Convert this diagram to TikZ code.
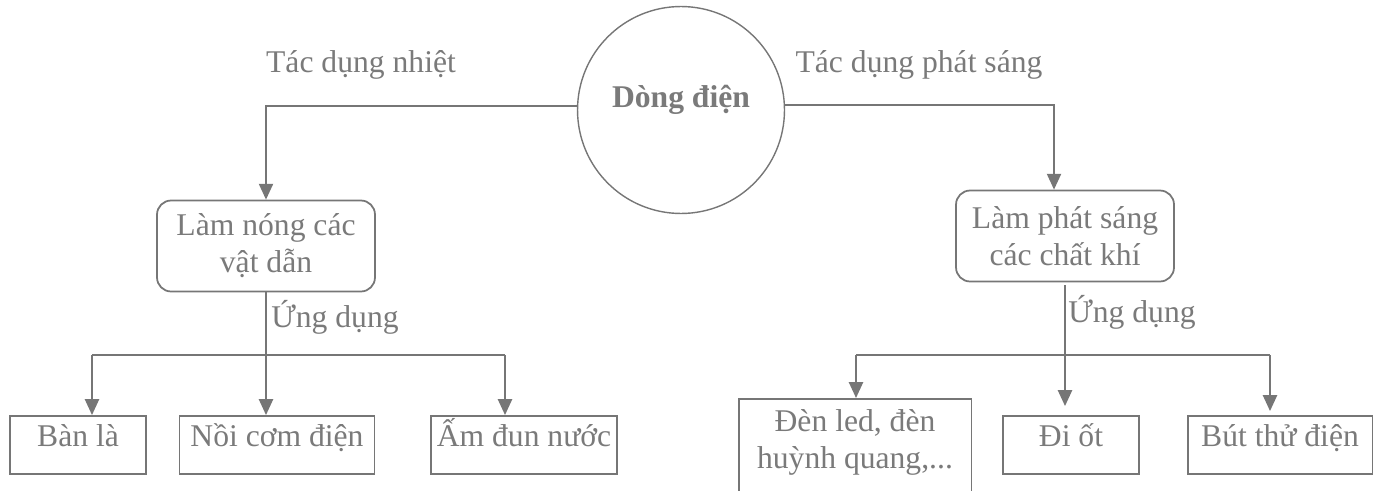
\documentclass[tikz,border=0pt]{standalone}
\usepackage{fontspec}
\setmainfont{Liberation Serif}
\usetikzlibrary{arrows.meta}
\definecolor{linegray}{RGB}{118,118,118}
\definecolor{textgray}{RGB}{122,122,122}

\begin{document}
\begin{tikzpicture}[x=0.02cm,y=-0.02cm,
  every node/.style={text=textgray,font=\fontsize{18}{21}\selectfont},
  roundbox/.style={draw=linegray,line width=1pt,rounded corners=8pt,align=center,minimum width=4.36cm,minimum height=1.82cm},
  leafbox/.style={draw=linegray,line width=1.1pt,align=center,minimum height=1.16cm,text height=0.45cm,text depth=0.4cm},
  conn/.style={draw=linegray,line width=1.1pt},
  arr/.style={conn,-{Triangle[length=9pt,width=8pt]}}]
  \useasboundingbox (0,0) rectangle (1381,490);
  \node[draw=linegray,line width=0.8pt,circle,minimum size=4.14cm,inner sep=0pt,text height=0.45cm,text depth=0.57cm,font=\fontsize{18}{21}\selectfont\bfseries] (dongdien) at (681,110) {Dòng điện};
  \node (nhiet) at (361,65) {Tác dụng nhiệt};
  \node (phatsangtxt) at (919,65) {Tác dụng phát sáng};
  \node[roundbox] (lamnong) at (266,246) {Làm nóng các\\vật dẫn};
  \node[roundbox] (phatsang) at (1065,236) {Làm phát sáng\\các chất khí};
  \draw[arr] ([yshift=0.08cm]dongdien.west) -| (lamnong.north);
  \draw[arr] ([yshift=0.1cm]dongdien.east) -| ([xshift=-0.22cm]phatsang.north);
  % nhanh trai
  \node[leafbox,minimum width=2.72cm] (banla) at (78,445) {Bàn là};
  \node[leafbox,minimum width=3.9cm] (noicom) at (277,445) {Nồi cơm điện};
  \node[leafbox,minimum width=3.68cm] (amdun) at (524,445) {Ấm đun nước};
  \node (ungdung1) at (335,317) {Ứng dụng};
  \coordinate (tl) at (92,355);
  \coordinate (tr) at (505,355);
  \draw[conn] (tl) -- (tr);
  \draw[arr] (lamnong.south) -- (lamnong.south |- noicom.north);
  \draw[arr] (tl) -- (tl |- banla.north);
  \draw[arr] (tr) -- (tr |- amdun.north);
  % nhanh phai
  \node[leafbox,anchor=north,minimum width=4.66cm,text height=,text depth=1.4cm,inner sep=6pt] (denled) at (855,398) {Đèn led, đèn\\huỳnh quang,...};
  \node[leafbox,minimum width=2.72cm] (diot) at (1071,445) {Đi ốt};
  \node[leafbox,minimum width=3.7cm] (butthu) at (1280,445) {Bút thử điện};
  \node (ungdung2) at (1132,312) {Ứng dụng};
  \coordinate (pl) at (856,355);
  \coordinate (pr) at (1270,355);
  \draw[conn] (pl) -- (pr);
  \draw[arr] ([yshift=-0.06cm]phatsang.south) -- ([yshift=0.18cm]phatsang.south |- diot.north);
  \draw[arr] (pl) -- (pl |- denled.north);
  \draw[arr] (pr) -- ([yshift=0.08cm]pr |- butthu.north);
\end{tikzpicture}
\end{document}
